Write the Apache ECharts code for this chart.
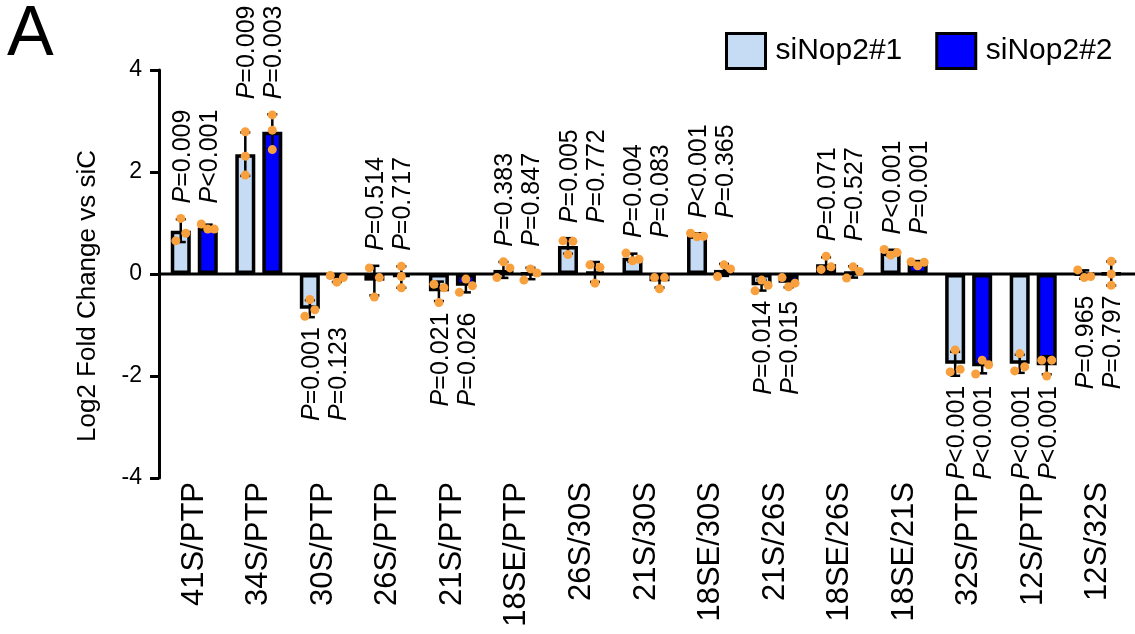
<!DOCTYPE html>
<html><head><meta charset="utf-8">
<script src="https://cdn.jsdelivr.net/npm/echarts@6/dist/echarts.min.js"></script>
<style>html,body{margin:0;padding:0;background:#fff}#c{width:1135px;height:634px}</style>
</head><body><div id="c"></div>
<script>
// ---------- data ----------
const categories = ['41S/PTP','34S/PTP','30S/PTP','26S/PTP','21S/PTP','18SE/PTP','26S/30S','21S/30S','18SE/30S','21S/26S','18SE/26S','18SE/21S','32S/PTP','12S/PTP','12S/32S'];
const seriesNames = ['siNop2#1','siNop2#2'];
const meanNop1 = [0.85, 2.35, -0.68, -0.13, -0.34, 0.08, 0.55, 0.32, 0.76, -0.22, 0.19, 0.42, -1.76, -1.76, -0.01];
const meanNop2 = [0.91, 2.79, -0.09, -0.06, -0.23, 0.01, 0.04, -0.14, 0.08, -0.17, 0.04, 0.21, -1.81, -1.79, 0.01];
// replicate values, listed left-to-right as they appear
const repsNop1 = [
  [0.65, 1.09, 0.80], [2.79, 2.31, 1.94], [-0.83, -0.50, -0.70], [0.12, -0.45, -0.07], [-0.20, -0.56, -0.27],
  [-0.07, 0.24, 0.12], [0.65, 0.38, 0.64], [0.41, 0.26, 0.29], [0.80, 0.73, 0.74], [-0.33, -0.12, -0.22],
  [0.09, 0.35, 0.14], [0.48, 0.37, 0.42], [-1.92, -1.49, -1.87], [-1.90, -1.56, -1.82], [0.08, -0.07, -0.05]
];
const repsNop2 = [
  [0.98, 0.88, 0.88], [3.12, 2.82, 2.44], [-0.03, -0.16, -0.07], [0.15, -0.05, -0.27], [-0.36, -0.10, -0.23],
  [-0.12, 0.10, 0.02], [0.18, -0.18, 0.13], [-0.07, -0.29, -0.07], [-0.05, 0.18, 0.10], [-0.07, -0.25, -0.18],
  [-0.08, 0.14, 0.05], [0.24, 0.16, 0.23], [-1.96, -1.69, -1.78], [-1.69, -2.00, -1.69], [0.25, 0.00, -0.22]
];
const pNop1 = ['=0.009','=0.009','=0.001','=0.514','=0.021','=0.383','=0.005','=0.004','<0.001','=0.014','=0.071','<0.001','<0.001','<0.001','=0.965'];
const pNop2 = ['<0.001','=0.003','=0.123','=0.717','=0.026','=0.847','=0.772','=0.083','=0.365','=0.015','=0.527','=0.001','<0.001','<0.001','=0.797'];
const pAbove = [true,true,false,true,false,true,true,true,true,false,true,true,false,false,false];
const yMin = -4, yMax = 4, yStep = 2;

// ---------- styling ----------
const FONT = "'Liberation Sans', Arial, Helvetica, sans-serif";
const LIGHT = '#c6dcf5', DARK = '#0000ff', DOT = '#f8a03e';
const BAR_W = 20, BAR_BORDER = 3.5, BAR_OFF = 13.5;
const DOT_R = 4.5, CLUSTER_PX = 9.8;

function sdOf(a){ const m = a.reduce((s,v)=>s+v,0)/a.length; return Math.sqrt(a.reduce((s,v)=>s+(v-m)*(v-m),0)/(a.length-1)); }

// simple beeswarm: cluster overlapping dots (in pixels) and spread them horizontally
function dotOffsets(ys){
  const n = ys.length; const idx = ys.map((y,i)=>i).sort((a,b)=>ys[a]-ys[b]);
  const clusters = []; let cur = [idx[0]];
  for (let k=1;k<n;k++){ if (Math.abs(ys[idx[k]]-ys[idx[k-1]]) < CLUSTER_PX) cur.push(idx[k]); else { clusters.push(cur); cur=[idx[k]]; } }
  clusters.push(cur);
  const off = new Array(n).fill(0);
  clusters.forEach(c => {
    c.sort((a,b)=>a-b);
    const sp = c.length === 2 ? 10 : 6.5;
    c.forEach((d,j)=>{ off[d] = (j-(c.length-1)/2)*sp; });
  });
  return off;
}

function errRender(si){
  const reps = si===0 ? repsNop1 : repsNop2;
  return function(params, api){
    const i = params.dataIndex;
    const mean = api.value(1);
    const r = reps[i];
    const sd = sdOf(r);
    const cx = api.coord([i, 0])[0] + (si===0 ? -BAR_OFF : BAR_OFF);
    const yTop = api.coord([i, mean+sd])[1], yBot = api.coord([i, mean-sd])[1];
    const ls = {stroke:'#000', lineWidth:2.5};
    const children = [
      {type:'line', shape:{x1:cx,y1:yTop,x2:cx,y2:yBot}, style:ls},
      {type:'line', shape:{x1:cx-5,y1:yTop,x2:cx+5,y2:yTop}, style:ls},
      {type:'line', shape:{x1:cx-5,y1:yBot,x2:cx+5,y2:yBot}, style:ls}
    ];
    const ys = r.map(v => api.coord([i, v])[1]);
    const off = dotOffsets(ys);
    ys.forEach((y,k)=>children.push({type:'circle', shape:{cx:cx+off[k], cy:y, r:DOT_R}, style:{fill:DOT}}));
    return {type:'group', children};
  };
}

function labelRender(params, api){
  const i = params.dataIndex;
  const up = pAbove[i];
  const vals = [];
  [[meanNop1[i], repsNop1[i]], [meanNop2[i], repsNop2[i]]].forEach(([m, r])=>{
    const sd = sdOf(r); vals.push(m+sd, m-sd, m, ...r);
  });
  const ext = up ? Math.max(...vals) : Math.min(...vals);
  const cxMid = api.coord([i, 0])[0];
  const y = api.coord([i, ext])[1] + (up ? -15 : 10);
  const mk = (cx, p) => ({
    type:'text', x:cx + 2, y:y, rotation:Math.PI/2,
    style:{text:'{i|P}' + p, fill:'#000', font:'25px ' + FONT, fontSize:25, fontFamily:FONT,
      align: up ? 'left' : 'right', verticalAlign:'middle',
      rich:{i:{fontStyle:'italic', fontSize:25, fontFamily:FONT, fill:'#000'}}}
  });
  return {type:'group', children:[mk(cxMid-BAR_OFF, pNop1[i]), mk(cxMid+BAR_OFF, pNop2[i])]};
}

function zeroLineRender(params, api){
  const y = api.coord([0, 0])[1];
  const x0 = api.coord([0, 0])[0] - api.size([1,0])[0]/2 - 3;
  return {type:'line', shape:{x1:x0, y1:y, x2:api.getWidth(), y2:y}, style:{stroke:'#000', lineWidth:3}};
}

const chart = echarts.init(document.getElementById('c'), null, {renderer:'canvas'});
chart.setOption({
  animation:false,
  backgroundColor:'#fff',
  textStyle:{fontFamily:FONT},
  grid:{left:162, right:5, top:70, bottom:156, containLabel:false},
  legend:{
    data:seriesNames, left:725, top:32, padding:0, itemWidth:39, itemHeight:35, itemGap:33,
    icon:'rect',
    textStyle:{fontSize:30, fontFamily:FONT, color:'#000', padding:[0,0,0,5]},
    itemStyle:{borderColor:'#000', borderWidth:3}
  },
  graphic:[{type:'text', left:7, top:1, style:{text:'A', fontSize:70, fontFamily:FONT, fill:'#000'}}],
  xAxis:{
    type:'category', data:categories,
    axisLine:{show:false}, axisTick:{show:false},
    axisLabel:{rotate:90, fontSize:31, fontFamily:FONT, color:'#000', margin:4, interval:0, padding:[18,0,0,0]}
  },
  yAxis:{
    type:'value', min:yMin, max:yMax, interval:yStep, offset:3,
    name:'Log2 Fold Change vs siC', nameLocation:'middle', nameRotate:90, nameGap:58,
    nameTextStyle:{fontSize:26, fontFamily:FONT, color:'#000', padding:[0,44,0,0]},
    axisLine:{show:true, lineStyle:{color:'#000', width:3}},
    axisTick:{show:true, length:9, lineStyle:{color:'#000', width:3}},
    axisLabel:{fontSize:23, fontFamily:FONT, color:'#000', margin:17},
    splitLine:{show:false}
  },
  series:[
    {name:seriesNames[0], type:'bar', data:meanNop1, barWidth:BAR_W, barGap:'35%',
      itemStyle:{color:LIGHT, borderColor:'#000', borderWidth:BAR_BORDER}, z:2},
    {name:seriesNames[1], type:'bar', data:meanNop2, barWidth:BAR_W, barGap:'35%',
      itemStyle:{color:DARK, borderColor:'#000', borderWidth:BAR_BORDER}, z:2},
    {type:'custom', renderItem:zeroLineRender, data:[[0,0]], encode:{x:0,y:1}, z:3, silent:true},
    {type:'custom', renderItem:errRender(0), data:meanNop1.map((v,i)=>[i,v]), encode:{x:0,y:1}, z:4},
    {type:'custom', renderItem:errRender(1), data:meanNop2.map((v,i)=>[i,v]), encode:{x:0,y:1}, z:4},
    {type:'custom', renderItem:labelRender, data:categories.map((c,i)=>[i,0]), encode:{x:0,y:1}, z:5}
  ]
});
</script></body></html>
